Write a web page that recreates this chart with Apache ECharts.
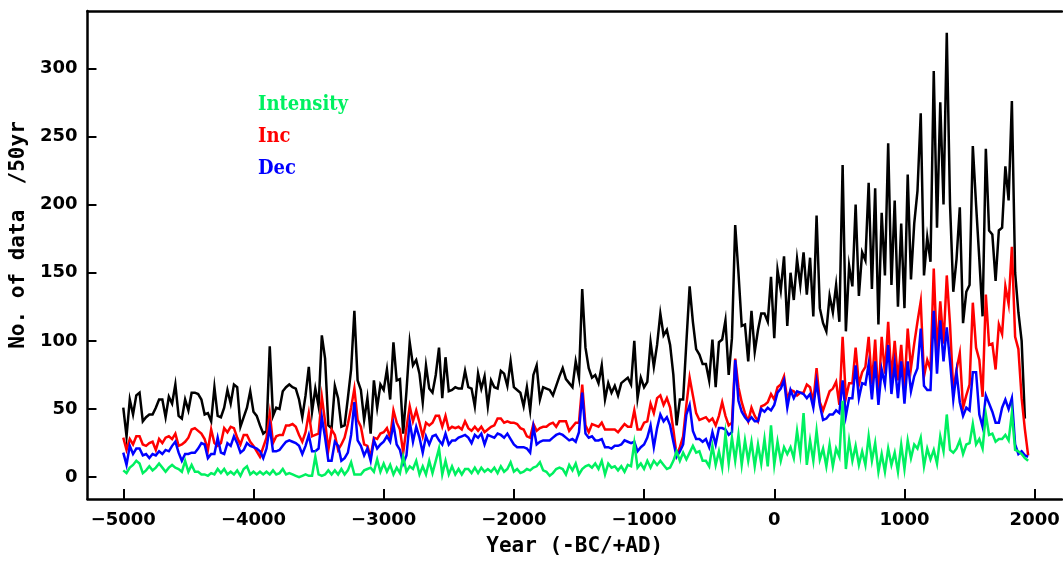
<!DOCTYPE html>
<html>
<head>
<meta charset="utf-8">
<script src="https://cdn.jsdelivr.net/npm/echarts@6/dist/echarts.min.js"></script>
<style>
  html, body { margin: 0; padding: 0; background: #ffffff; }
  #chart { width: 1063px; height: 562px; }
</style>
</head>
<body>
<div id="chart"></div>
<script>
// Number of archeomagnetic data per 50-yr window, sampled every 25 years from 5000 BC
const START_YEAR = -5000;
const STEP_YEARS = 25;

const xTickValues = [-5000, -4000, -3000, -2000, -1000, 0, 1000, 2000];
const yTickValues = [0, 50, 100, 150, 200, 250, 300];

// All data (black)
const totalCounts = [
  51,30,57,46,60,62,41,44,46,46,
  51,57,57,44,59,54,68,45,43,57,
  49,62,62,61,57,46,47,41,66,45,
  44,51,64,54,68,66,37,44,51,63,
  48,45,38,32,34,96,45,51,50,63,
  66,68,66,65,57,44,60,81,48,65,
  52,104,87,38,36,67,58,37,38,58,
  79,122,71,64,42,58,32,71,51,68,
  64,79,57,99,71,72,32,63,99,82,
  86,76,55,82,65,62,75,95,58,88,
  63,64,66,65,65,78,66,65,52,76,
  65,74,52,71,66,65,78,76,67,85,
  66,64,62,52,66,49,75,82,57,66,
  65,64,60,67,74,80,72,69,66,85,
  73,138,95,80,73,75,69,82,57,69,
  62,67,60,69,71,73,68,100,58,73,
  66,70,99,81,97,120,104,108,97,75,
  38,57,57,99,140,114,94,90,83,83,
  71,101,66,99,101,115,75,102,185,150,
  111,112,85,122,92,108,120,120,114,147,
  102,152,137,162,111,150,130,160,141,165,
  134,161,118,192,124,113,107,133,121,141,
  114,229,107,155,140,200,133,165,159,216,
  138,212,112,194,148,245,141,203,125,186,
  124,222,145,186,210,267,148,176,158,298,
  183,275,200,326,200,136,160,198,113,136,
  141,243,200,160,118,241,181,178,144,181,
  183,228,203,276,150,121,100,43
];

// Inclination (red)
const incCounts = [
  29,20,28,24,30,30,24,23,25,26,
  20,28,25,29,30,28,32,23,24,26,
  29,35,36,34,32,28,20,35,25,23,
  25,36,33,37,36,29,24,31,31,26,
  23,19,15,22,29,47,25,30,31,31,
  38,38,39,37,31,26,33,47,30,31,
  32,59,41,20,35,31,20,24,29,39,
  51,65,42,37,24,23,15,29,28,32,
  33,36,29,49,40,35,18,36,52,41,
  49,40,30,40,38,40,45,45,37,45,
  35,37,36,37,35,41,36,34,37,34,
  37,33,35,37,38,43,43,40,41,40,
  40,39,36,35,30,29,39,34,36,37,
  37,39,40,37,41,41,41,34,37,40,
  40,68,38,33,39,38,37,40,35,35,
  35,35,33,36,39,37,37,49,35,35,
  40,41,54,47,58,60,53,58,51,35,
  16,22,30,53,73,60,47,42,43,44,
  41,43,38,45,55,45,38,40,87,66,
  55,47,41,51,45,41,52,53,55,61,
  57,66,68,74,57,64,63,60,62,62,
  68,66,55,80,55,49,56,63,65,70,
  53,103,58,69,69,95,68,77,81,103,
  68,101,57,103,76,114,72,100,71,97,
  65,109,80,98,114,129,74,86,79,153,
  91,129,98,148,112,63,79,91,51,60,
  68,128,95,86,59,134,97,98,79,112,
  105,140,127,169,103,94,58,35,16
];

// Declination (blue)
const decCounts = [
  18,9,23,17,21,21,16,17,14,17,
  16,19,17,20,19,23,26,18,12,17,
  17,18,18,21,25,24,14,17,17,29,
  18,17,25,23,30,25,18,20,25,23,
  22,21,19,14,21,37,19,19,20,23,
  26,27,26,25,23,17,23,31,19,19,
  21,44,29,12,12,26,23,12,14,18,
  31,55,27,23,16,21,12,27,21,24,
  26,30,26,39,24,20,10,16,41,26,
  37,29,18,30,24,30,31,27,24,32,
  24,27,27,29,30,31,29,25,31,29,
  32,24,31,30,29,32,31,29,32,28,
  24,22,22,22,21,18,37,24,26,27,
  27,27,29,31,32,31,29,27,28,26,
  33,62,32,29,30,27,27,28,22,22,
  21,23,23,24,27,26,25,26,19,22,
  24,29,38,22,36,46,41,44,38,26,
  15,19,24,46,53,34,28,28,26,28,
  22,33,24,36,36,35,31,33,86,56,
  48,44,41,44,41,41,50,48,51,49,
  53,62,65,71,51,64,58,63,62,61,
  58,61,51,70,53,42,43,46,46,49,
  47,71,45,58,58,82,58,69,68,83,
  57,85,53,79,68,97,61,83,58,85,
  54,85,63,74,80,109,67,64,64,122,
  76,115,85,110,85,57,77,55,45,51,
  49,77,77,46,37,60,54,48,40,40,
  51,57,50,58,24,17,19,16,15
];

// Intensity (green)
const intensityCounts = [
  5,3,7,9,12,10,3,5,8,5,
  7,10,7,4,7,9,7,6,4,12,
  4,9,4,4,2,2,1,3,2,6,
  3,6,2,4,2,5,1,6,8,2,
  4,2,4,2,4,2,5,2,3,6,
  2,3,2,1,0,1,2,1,1,15,
  2,1,2,5,2,5,2,6,2,5,
  11,2,2,2,5,6,7,4,13,4,
  10,4,9,2,7,3,15,4,8,6,
  12,2,8,2,12,3,12,21,2,12,
  2,8,2,6,2,6,6,3,7,3,
  7,4,6,4,7,3,8,4,6,11,
  4,6,3,4,6,5,7,8,11,5,
  4,1,3,6,7,6,2,9,5,10,
  2,6,8,9,7,10,6,12,2,10,
  7,8,5,8,4,9,8,25,7,10,
  6,12,7,12,9,12,9,6,7,12,
  19,12,18,13,18,23,18,19,12,12,
  8,23,9,19,7,32,10,29,12,31,
  9,27,12,26,8,24,10,28,8,38,
  9,26,12,22,17,22,14,34,17,47,
  9,27,12,34,13,21,8,24,8,21,
  15,56,6,27,12,23,9,19,9,30,
  12,25,4,17,4,21,9,18,4,24,
  6,27,14,24,21,29,8,21,13,20,
  10,30,19,46,20,18,21,27,17,24,
  25,39,24,28,21,46,31,32,26,28,
  28,31,27,47,20,19,17,14,12
];

const COLORS = { total: '#000000', inc: '#ff0000', dec: '#0000ff', intensity: '#00f060' };

function toPairs(values) {
  return values.map((v, i) => [START_YEAR + i * STEP_YEARS, v]);
}

function lineSeries(name, values, color) {
  return {
    name: name,
    type: 'line',
    data: toPairs(values),
    showSymbol: false,
    symbol: 'none',
    smooth: false,
    lineStyle: { color: color, width: 2.5, join: 'miter' },
    itemStyle: { color: color },
    emphasis: { disabled: true }
  };
}

const tickFont = { fontFamily: 'DejaVu Sans', fontWeight: 'bold', fontSize: 18, color: '#000' };
const nameFont = { fontFamily: 'DejaVu Sans Mono', fontWeight: 'bold', fontSize: 21, color: '#000' };
const axisLine = { show: true, onZero: false, lineStyle: { color: '#000', width: 2.5 } };

const chart = echarts.init(document.getElementById('chart'), null, { renderer: 'canvas' });

chart.setOption({
  animation: false,
  backgroundColor: '#ffffff',
  grid: { left: 83, right: 1, top: 11, bottom: 61, containLabel: false },
  legend: {
    orient: 'vertical',
    left: 248,
    top: 90,
    itemGap: 12,
    itemWidth: 0,
    itemHeight: 0,
    icon: 'none',
    selectedMode: false,
    data: [
      { name: 'Intensity', textStyle: { color: COLORS.intensity } },
      { name: 'Inc', textStyle: { color: COLORS.inc } },
      { name: 'Dec', textStyle: { color: COLORS.dec } }
    ],
    textStyle: { fontFamily: 'DejaVu Serif Condensed, DejaVu Serif', fontWeight: 'bold', fontSize: 20 }
  },
  xAxis: [
    {
      type: 'value',
      position: 'bottom',
      min: -5275,
      max: 2210,
      name: 'Year (-BC/+AD)',
      nameLocation: 'middle',
      nameGap: 37,
      nameTextStyle: nameFont,
      axisLine: axisLine,
      axisTick: { show: true, inside: true, length: 10, customValues: xTickValues, lineStyle: { color: '#000', width: 2 } },
      axisLabel: {
        customValues: xTickValues,
        margin: 12,
        ...tickFont,
        formatter: v => (v < 0 ? '\u2212' + Math.abs(v) : String(v))
      },
      splitLine: { show: false }
    },
    {
      type: 'value',
      position: 'top',
      min: -5275,
      max: 2210,
      axisLine: axisLine,
      axisTick: { show: false },
      axisLabel: { show: false },
      splitLine: { show: false }
    }
  ],
  yAxis: {
    type: 'value',
    min: -16,
    max: 342,
    name: 'No. of data  /50yr',
    nameLocation: 'middle',
    nameGap: 58,
    nameTextStyle: { ...nameFont, padding: [0, 0, 0, 40] },
    axisLine: axisLine,
    axisTick: { show: true, inside: true, length: 9, customValues: yTickValues, lineStyle: { color: '#000', width: 2 } },
    axisLabel: { customValues: yTickValues, margin: 10, ...tickFont },
    splitLine: { show: false }
  },
  series: [
    lineSeries('Total', totalCounts, COLORS.total),
    lineSeries('Inc', incCounts, COLORS.inc),
    lineSeries('Dec', decCounts, COLORS.dec),
    lineSeries('Intensity', intensityCounts, COLORS.intensity)
  ]
});
</script>
</body>
</html>
